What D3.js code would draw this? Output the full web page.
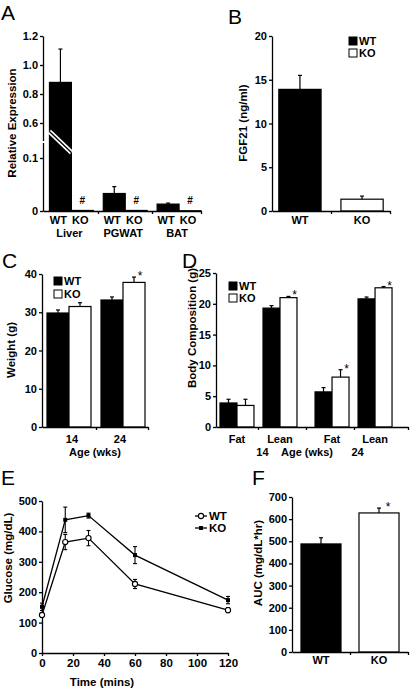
<!DOCTYPE html>
<html><head><meta charset="utf-8">
<script src="https://cdn.jsdelivr.net/npm/d3@7"></script>
<style>
body{margin:0;background:#fff;}
svg{display:block;}
</style></head><body>
<svg id="c" width="410" height="690"></svg>
<script>
// ---------- DATA ----------
// Panel A
const aTissues = ["Liver", "PGWAT", "BAT"];
const aWT = [0.88, 0.033, 0.013];
const aWTErr = [0.23, 0.013, 0.002];
const aKO = [0.001, 0.001, 0.0005];
const aTicks = [0, 0.1, 0.6, 0.8, 1.0, 1.2];
const aTickLabels = ["0", "0.1", "0.6", "0.8", "1.0", "1.2"];
// Panel B
const bGroups = ["WT", "KO"];
const bVals = [13.9, 1.35];
const bErr = [1.6, 0.35];
const bTicks = [0, 5, 10, 15, 20];
// Panel C
const cAges = ["14", "24"];
const cWT = [29.8, 33.2];
const cWTErr = [0.8, 0.8];
const cKO = [31.5, 37.8];
const cKOErr = [1.0, 1.4];
const cSig = [false, true];
const cTicks = [0, 10, 20, 30, 40];
// Panel D
const dAge = ["14", "14", "24", "24"];
const dComp = ["Fat", "Lean", "Fat", "Lean"];
const dWT = [3.9, 19.3, 5.7, 20.8];
const dWTErr = [0.6, 0.4, 0.7, 0.3];
const dKO = [3.5, 21.0, 8.1, 22.6];
const dKOErr = [1.0, 0.2, 1.2, 0.2];
const dSig = [false, true, true, true];
const dTicks = [0, 5, 10, 15, 20, 25];
// Panel E
const eTime = [0, 15, 30, 60, 120];
const eWT = [125, 365, 378, 227, 141];
const eWTErr = [8, 25, 25, 15, 8];
const eKO = [152, 438, 452, 322, 174];
const eKOErr = [12, 42, 8, 28, 12];
const eXTicks = [0, 20, 40, 60, 80, 100, 120];
const eYTicks = [0, 100, 200, 300, 400, 500];
// Panel F
const fGroups = ["WT", "KO"];
const fVals = [488, 628];
const fErr = [28, 22];
const fSig = [false, true];
const fTicks = [0, 100, 200, 300, 400, 500, 600, 700];

// ---------- HELPERS ----------
const FONT = "'Liberation Sans', Arial, Helvetica, sans-serif";
const svg = d3.select("#c");
const LW = 1.3;

function styleAxis(g) {
  g.select(".domain").attr("stroke", "#000").attr("stroke-width", LW);
  g.selectAll(".tick line").attr("stroke", "#000").attr("stroke-width", LW);
  g.selectAll(".tick text").attr("font-family", FONT).attr("font-weight", "bold")
    .attr("font-size", 11).attr("fill", "#000");
}
function yAxis(x, scale, ticks, fmt) {
  const ax = d3.axisLeft(scale).tickValues(ticks).tickSize(3).tickSizeOuter(0).tickPadding(2);
  if (fmt) ax.tickFormat(fmt);
  const g = svg.append("g").attr("transform", `translate(${x},0)`).call(ax);
  styleAxis(g);
  return g;
}
function xBase(x0, x1, y, ticks) {
  const s = d3.scaleLinear().domain([x0, x1]).range([x0, x1]);
  const g = svg.append("g").attr("transform", `translate(0,${y})`)
    .call(d3.axisBottom(s).tickValues(ticks).tickSize(3).tickSizeOuter(0).tickFormat(""));
  styleAxis(g);
}
function txt(x, y, s, opt = {}) {
  const t = svg.append("text").attr("x", x).attr("y", y).text(s)
    .attr("font-family", FONT).attr("font-size", opt.size || 11)
    .attr("font-weight", opt.weight || "bold")
    .attr("text-anchor", opt.anchor || "middle").attr("fill", "#000");
  return t;
}
function vlabel(x, y, s) {
  svg.append("text").attr("transform", `translate(${x},${y}) rotate(-90)`)
    .attr("dy", "0.35em").text(s).attr("font-family", FONT).attr("font-size", 11.5)
    .attr("font-weight", "bold").attr("text-anchor", "middle").attr("fill", "#000");
}
function title(x, y, s) {
  txt(x, y, s, { size: 21, weight: "normal", anchor: "start" });
}
function bar(x, w, v, err, y, fill) {
  svg.append("rect").attr("x", x).attr("y", y(v)).attr("width", w)
    .attr("height", Math.max(0.01, y(0) - y(v)))
    .attr("fill", fill).attr("stroke", "#000").attr("stroke-width", 1.2);
  if (err > 0) {
    const cx = x + w / 2;
    svg.append("line").attr("x1", cx).attr("x2", cx).attr("y1", y(v)).attr("y2", y(v + err))
      .attr("stroke", "#000").attr("stroke-width", 1.2);
    svg.append("line").attr("x1", cx - 2).attr("x2", cx + 2).attr("y1", y(v + err)).attr("y2", y(v + err))
      .attr("stroke", "#000").attr("stroke-width", 1.2);
  }
}
function star(cx, yTop) {
  txt(cx + 6, yTop + 3, "*", { size: 12, weight: "normal" });
}
function legendSq(x, y, fill, label) {
  svg.append("rect").attr("x", x).attr("y", y - 4).attr("width", 8).attr("height", 8)
    .attr("fill", fill).attr("stroke", "#000").attr("stroke-width", 1);
  txt(x + 10, y + 4, label, { anchor: "start" });
}

// ---------- PANEL A ----------
title(1, 20, "A");
const yA = d3.scaleLinear().domain([0, 0.1, 0.6, 1.2]).range([211, 158, 123, 36]);
const xA = d3.scaleBand().domain(aTissues).range([43, 201]).paddingInner(0.185).paddingOuter(0.06).align(1);
const sA = d3.scaleBand().domain(["WT", "KO"]).range([0, xA.bandwidth()]);
aTissues.forEach((t, i) => {
  bar(xA(t) + sA("WT"), sA.bandwidth(), aWT[i], aWTErr[i], yA, "#000");
  bar(xA(t) + sA("KO"), sA.bandwidth(), aKO[i], 0, yA, "#fff");
  txt(xA(t) + sA("KO") + sA.bandwidth() / 2, 204, "#", { size: 10 });
  txt(xA(t) + sA("WT") + sA.bandwidth() / 2 - 2, 224, "WT");
  txt(xA(t) + sA("KO") + sA.bandwidth() / 2 - 2, 224, "KO");
  txt(xA(t) + xA.bandwidth() / 2 - 2, 237, t);
});
// axis break across liver bar
{
  const x0 = xA("Liver") + sA("WT"), x1 = x0 + sA.bandwidth();
  const ym = (yA(0.6) + yA(0.1)) / 2;
  svg.append("line").attr("x1", x0).attr("x2", x1).attr("y1", ym - 9).attr("y2", ym + 12)
    .attr("stroke", "#fff").attr("stroke-width", 4.5);
  svg.append("line").attr("x1", x0).attr("x2", x1).attr("y1", ym - 9).attr("y2", ym + 12)
    .attr("stroke", "#000").attr("stroke-width", 1.3);
}
yAxis(xA.range()[0], yA, aTicks, (d, i) => aTickLabels[i]);
xBase(43, 201, 211, [98, 152, 201]);
svg.append("rect").attr("x", 41).attr("y", 141).attr("width", 4).attr("height", 2).attr("fill", "#fff");
vlabel(12, 123, "Relative Expression");

// ---------- PANEL B ----------
title(228, 24, "B");
const yB = d3.scaleLinear().domain([0, 20]).range([211, 36]);
const xB = d3.scaleBand().domain(bGroups).range([272, 390]).paddingInner(0.32).paddingOuter(0.11);
bGroups.forEach((g, i) => {
  bar(xB(g), xB.bandwidth(), bVals[i], bErr[i], yB, i === 0 ? "#000" : "#fff");
  txt(xB(g) + xB.bandwidth() / 2, 224, g);
});
yAxis(272, yB, bTicks);
xBase(272, 390, 211, [331, 390]);
vlabel(243, 123, "FGF21 (ng/ml)");
legendSq(349, 41, "#000", "WT");
legendSq(349, 53, "#fff", "KO");

// ---------- PANEL C ----------
title(2, 268, "C");
const yC = d3.scaleLinear().domain([0, 40]).range([427, 274]);
const xC = d3.scaleBand().domain(cAges).range([42, 148]).paddingInner(0.185).paddingOuter(0.074).align(0.625);
const sC = d3.scaleBand().domain(["WT", "KO"]).range([0, xC.bandwidth()]);
cAges.forEach((a, i) => {
  bar(xC(a) + sC("WT"), sC.bandwidth(), cWT[i], cWTErr[i], yC, "#000");
  bar(xC(a) + sC("KO"), sC.bandwidth(), cKO[i], cKOErr[i], yC, "#fff");
  if (cSig[i]) star(xC(a) + sC("KO") + sC.bandwidth() / 2, yC(cKO[i] + cKOErr[i]));
  txt(xC(a) + xC.bandwidth() / 2 + (i === 0 ? 3 : -3), 443, a);
});
yAxis(42, yC, cTicks);
xBase(42, 148, 427, [96, 148]);
txt(95, 456, "Age (wks)");
vlabel(11, 350, "Weight (g)");
legendSq(54, 281, "#000", "WT");
legendSq(54, 294, "#fff", "KO");

// ---------- PANEL D ----------
title(182, 268, "D");
const yD = d3.scaleLinear().domain([0, 25]).range([427, 273]);
const xD = d3.scaleBand().domain(["14", "24"]).range([216, 408]).paddingInner(0.19).paddingOuter(0.105).align(0.2);
const cD = d3.scaleBand().domain(["Fat", "Lean"]).range([0, xD.bandwidth()]).paddingInner(0.21);
const sD = d3.scaleBand().domain(["WT", "KO"]).range([0, cD.bandwidth()]);
dWT.forEach((v, i) => {
  const gx = xD(dAge[i]) + cD(dComp[i]);
  bar(gx + sD("WT"), sD.bandwidth(), dWT[i], dWTErr[i], yD, "#000");
  bar(gx + sD("KO"), sD.bandwidth(), dKO[i], dKOErr[i], yD, "#fff");
  if (dSig[i]) star(gx + sD("KO") + sD.bandwidth() / 2, yD(dKO[i] + dKOErr[i]));
  txt(gx + cD.bandwidth() / 2, 443, dComp[i]);
});
["14", "24"].forEach(a => txt(xD(a) + xD.bandwidth() / 2 + 4, 456, a));
txt(307, 456, "Age (wks)");
yAxis(216, yD, dTicks);
xBase(216, 408, 427, [258, 306, 354, 408]);
vlabel(192, 328, "Body Composition (g)");
legendSq(229, 286, "#000", "WT");
legendSq(229, 298, "#fff", "KO");

// ---------- PANEL E ----------
title(1, 485, "E");
const xE = d3.scaleLinear().domain([0, 120]).range([42, 228]);
const yE = d3.scaleLinear().domain([0, 500]).range([653, 501]);
{
  const gx = svg.append("g").attr("transform", "translate(0,653)")
    .call(d3.axisBottom(xE).tickValues(eXTicks).tickSize(3).tickSizeOuter(0).tickPadding(3));
  styleAxis(gx);
  gx.selectAll(".tick text").attr("font-size", 11.5);
  yAxis(42, yE, eYTicks);
}
function series(vals, errs, marker) {
  const line = d3.line().x((d, i) => xE(eTime[i])).y(d => yE(d));
  svg.append("path").datum(vals).attr("d", line).attr("fill", "none")
    .attr("stroke", "#000").attr("stroke-width", 1.3);
  vals.forEach((v, i) => {
    const x = xE(eTime[i]);
    svg.append("line").attr("x1", x).attr("x2", x).attr("y1", yE(v - errs[i])).attr("y2", yE(v + errs[i]))
      .attr("stroke", "#000").attr("stroke-width", 1.1);
    [v - errs[i], v + errs[i]].forEach(e => svg.append("line").attr("x1", x - 2).attr("x2", x + 2)
      .attr("y1", yE(e)).attr("y2", yE(e)).attr("stroke", "#000").attr("stroke-width", 1.1));
    marker(x, yE(v));
  });
}
const circ = (x, y) => svg.append("circle").attr("cx", x).attr("cy", y).attr("r", 2.6)
  .attr("fill", "#fff").attr("stroke", "#000").attr("stroke-width", 1.1);
const sq = (x, y) => svg.append("rect").attr("x", x - 2).attr("y", y - 2).attr("width", 4).attr("height", 4)
  .attr("fill", "#000");
series(eWT, eWTErr, circ);
series(eKO, eKOErr, sq);
txt(102, 686, "Time (mins)", { size: 11.5 });
vlabel(8, 558, "Glucose (mg/dL)");
// legend
[["WT", circ, 516], ["KO", sq, 528]].forEach(([lab, mk, y]) => {
  svg.append("line").attr("x1", 195).attr("x2", 207).attr("y1", y).attr("y2", y)
    .attr("stroke", "#000").attr("stroke-width", 1.3);
  mk(201, y);
  txt(209, y + 4, lab, { anchor: "start", size: 11.5 });
});

// ---------- PANEL F ----------
title(252, 485, "F");
const yF = d3.scaleLinear().domain([0, 700]).range([652, 497]);
const xF = d3.scaleBand().domain(fGroups).range([292, 408]).paddingInner(0.31).paddingOuter(0.155);
fGroups.forEach((g, i) => {
  bar(xF(g), xF.bandwidth(), fVals[i], fErr[i], yF, i === 0 ? "#000" : "#fff");
  if (fSig[i]) star(xF(g) + xF.bandwidth() / 2 + 3, yF(fVals[i] + fErr[i]));
  txt(xF(g) + xF.bandwidth() / 2, 664, g);
});
yAxis(292, yF, fTicks);
xBase(292, 408, 652, [350, 408]);
vlabel(258, 563, "AUC (mg/dL*hr)");
</script>
</body></html>
